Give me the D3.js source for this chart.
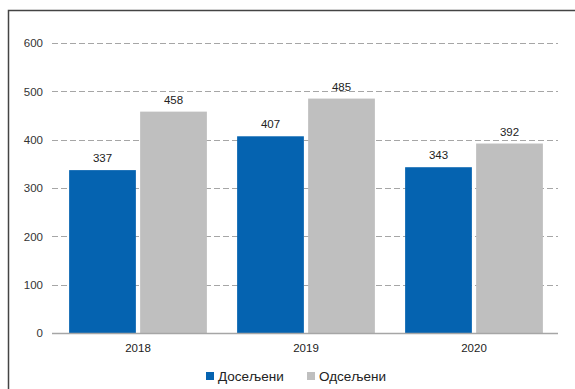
<!DOCTYPE html>
<html>
<head>
<meta charset="utf-8">
<script src="https://cdn.jsdelivr.net/npm/d3@7"></script>
<style>
  html, body { margin: 0; padding: 0; background: #fff; }
  svg { display: block; font-family: "Liberation Sans", Arial, sans-serif; }
</style>
</head>
<body>
<svg id="chart" width="575" height="389"></svg>
<script>
// Population movement by year
const years = ["2018", "2019", "2020"];
const seriesNames = ["Досељени", "Одсељени"];
const doseljeni = [337, 407, 343];
const odseljeni = [458, 485, 392];
const yTicks = [0, 100, 200, 300, 400, 500, 600];
const colors = ["#0563b0", "#bfbfbf"];

const svg = d3.select("#chart");
const W = 575, H = 389;
const m = { left: 54, right: 17, top: 43, bottom: 56 };

// outer frame (runs off the right and bottom edges)
svg.append("rect")
  .attr("x", 8.5).attr("y", 10.5)
  .attr("width", W + 10).attr("height", H + 10)
  .attr("fill", "#fff").attr("stroke", "#444").attr("stroke-width", 1.5);

const x = d3.scaleBand().domain(years).range([m.left, W - m.right]).paddingInner(0.18).paddingOuter(0.09);
const xs = d3.scaleBand().domain(seriesNames).range([0, x.bandwidth()]).paddingInner(0.06);
const y = d3.scaleLinear().domain([0, 600]).range([H - m.bottom, m.top]);

// horizontal grid lines
const grid = svg.append("g");
grid.selectAll("line").data(yTicks.filter(t => t > 0)).join("line")
  .attr("x1", m.left - 2).attr("x2", W - m.right)
  .attr("y1", d => Math.round(y(d)) + 0.5).attr("y2", d => Math.round(y(d)) + 0.5)
  .attr("stroke", "#a6a6a6").attr("stroke-width", 1).attr("stroke-dasharray", "6,3");

// y axis labels
const yAxis = svg.append("g")
  .attr("transform", `translate(${m.left - 11},0)`)
  .call(d3.axisLeft(y).tickValues(yTicks).tickSize(0).tickPadding(0));
yAxis.select(".domain").remove();
yAxis.selectAll("text").attr("font-size", 11.5).attr("fill", "#333")
  .attr("font-family", "'Liberation Sans', Arial, sans-serif");

// bars
const rows = years.map((yr, i) => ({ year: yr, values: [doseljeni[i], odseljeni[i]] }));
const groups = svg.append("g").selectAll("g").data(rows).join("g")
  .attr("transform", d => `translate(${x(d.year)},0)`);

groups.selectAll("rect").data(d => d.values.map((v, j) => ({ name: seriesNames[j], v, j }))).join("rect")
  .attr("x", d => xs(d.name))
  .attr("width", xs.bandwidth())
  .attr("y", d => y(d.v))
  .attr("height", d => y(0) - y(d.v))
  .attr("fill", d => colors[d.j]);

groups.selectAll("text").data(d => d.values.map((v, j) => ({ name: seriesNames[j], v, j }))).join("text")
  .attr("x", d => xs(d.name) + xs.bandwidth() / 2)
  .attr("y", d => y(d.v) - 8)
  .attr("text-anchor", "middle")
  .attr("font-size", 11.5).attr("fill", "#222")
  .text(d => d.v);

// x axis baseline and labels
const xAxis = svg.append("g")
  .attr("transform", `translate(0,${y(0)})`)
  .call(d3.axisBottom(x).tickSize(0).tickPadding(11));
xAxis.select(".domain").attr("d", `M${m.left - 2},0.5H${W - m.right}`).attr("stroke", "#a6a6a6").attr("stroke-width", 1.5);
xAxis.selectAll("text").attr("font-size", 11.5).attr("fill", "#222")
  .attr("font-family", "'Liberation Sans', Arial, sans-serif");

// legend
const legend = svg.append("g").attr("transform", "translate(206,376)");
const legendX = [0, 101];
seriesNames.forEach((n, i) => {
  const g = legend.append("g").attr("transform", `translate(${legendX[i]},0)`);
  g.append("rect").attr("x", 0).attr("y", -4).attr("width", 8).attr("height", 8).attr("fill", colors[i]);
  g.append("text").attr("x", 12).attr("y", 5).attr("font-size", 13.5).attr("fill", "#222").text(n);
});
</script>
</body>
</html>
